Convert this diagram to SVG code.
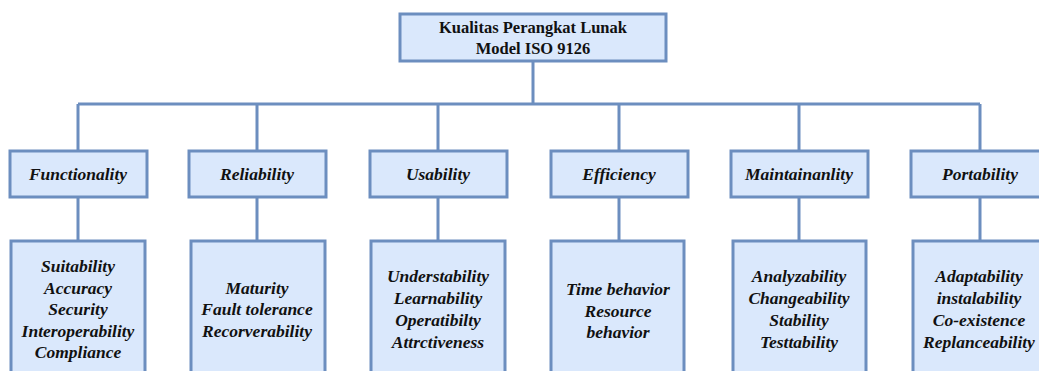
<svg xmlns="http://www.w3.org/2000/svg" width="1039" height="371" viewBox="0 0 1039 371">
<style>
.box{fill:#dae8fc;stroke:#6c8ebf;stroke-width:3}
.ln{fill:none;stroke:#6c8ebf;stroke-width:3}
.t0{font-size:16.5px;font-weight:bold}
.t1{font-size:17.5px;font-style:italic;font-weight:bold}
.t2{font-size:17.5px;font-style:italic;font-weight:bold}
</style>
<rect width="1039" height="371" fill="#fff"/>
<g id="connectors">
<path class="ln" d="M533 61V104M78 104H980M78 104V151M257 104V151M438 104V151M619 104V151M799 104V151M980 104V151"/>
<path class="ln" d="M78 197V241M257 197V241M438 197V241M619 197V241M799 197V241M980 197V241"/>
</g>
<g font-family="'Liberation Serif', 'DejaVu Serif', serif" fill="#111" text-anchor="middle">
<g id="root"><rect class="box" x="400" y="14" width="266" height="47"/>
<text class="t0" x="533" y="33">Kualitas Perangkat Lunak</text><text class="t0" x="533" y="54">Model ISO 9126</text></g>
<g id="functionality"><rect class="box" x="10" y="151" width="137" height="46"/><text class="t1" x="78" y="180">Functionality</text></g>
<g id="reliability"><rect class="box" x="189" y="151" width="137" height="46"/><text class="t1" x="257" y="180">Reliability</text></g>
<g id="usability"><rect class="box" x="370" y="151" width="137" height="46"/><text class="t1" x="438" y="180">Usability</text></g>
<g id="efficiency"><rect class="box" x="551" y="151" width="137" height="46"/><text class="t1" x="619" y="180">Efficiency</text></g>
<g id="maintainability"><rect class="box" x="731" y="151" width="137" height="46"/><text class="t1" x="799" y="180">Maintainanlity</text></g>
<g id="portability"><rect class="box" x="911" y="151" width="137" height="46"/><text class="t1" x="980" y="180">Portability</text></g>
<g id="functionality-sub"><rect class="box" x="11" y="241" width="134" height="140"/>
<text class="t2" x="78"><tspan x="78" y="272">Suitability</tspan><tspan x="78" y="293.5">Accuracy</tspan><tspan x="78" y="315">Security</tspan><tspan x="78" y="336.5">Interoperability</tspan><tspan x="78" y="358">Compliance</tspan></text></g>
<g id="reliability-sub"><rect class="box" x="191" y="241" width="134" height="140"/>
<text class="t2"><tspan x="257" y="293.5">Maturity</tspan><tspan x="257" y="315">Fault tolerance</tspan><tspan x="257" y="336.5">Recorverability</tspan></text></g>
<g id="usability-sub"><rect class="box" x="371" y="241" width="134" height="140"/>
<text class="t2"><tspan x="438" y="282">Understability</tspan><tspan x="438" y="303.5">Learnability</tspan><tspan x="438" y="325.5">Operatibilty</tspan><tspan x="438" y="347.5">Attrctiveness</tspan></text></g>
<g id="efficiency-sub"><rect class="box" x="551" y="241" width="133" height="140"/>
<text class="t2"><tspan x="618" y="295">Time behavior</tspan><tspan x="618" y="316.5">Resource</tspan><tspan x="618" y="338">behavior</tspan></text></g>
<g id="maintainability-sub"><rect class="box" x="733" y="241" width="133" height="140"/>
<text class="t2"><tspan x="799" y="282">Analyzability</tspan><tspan x="799" y="303.5">Changeability</tspan><tspan x="799" y="325.5">Stability</tspan><tspan x="799" y="347.5">Testtability</tspan></text></g>
<g id="portability-sub"><rect class="box" x="913" y="241" width="134" height="140"/>
<text class="t2"><tspan x="979" y="282">Adaptability</tspan><tspan x="979" y="303.5">instalability</tspan><tspan x="979" y="325.5">Co-existence</tspan><tspan x="979" y="347.5">Replanceability</tspan></text></g>
</g>
</svg>
